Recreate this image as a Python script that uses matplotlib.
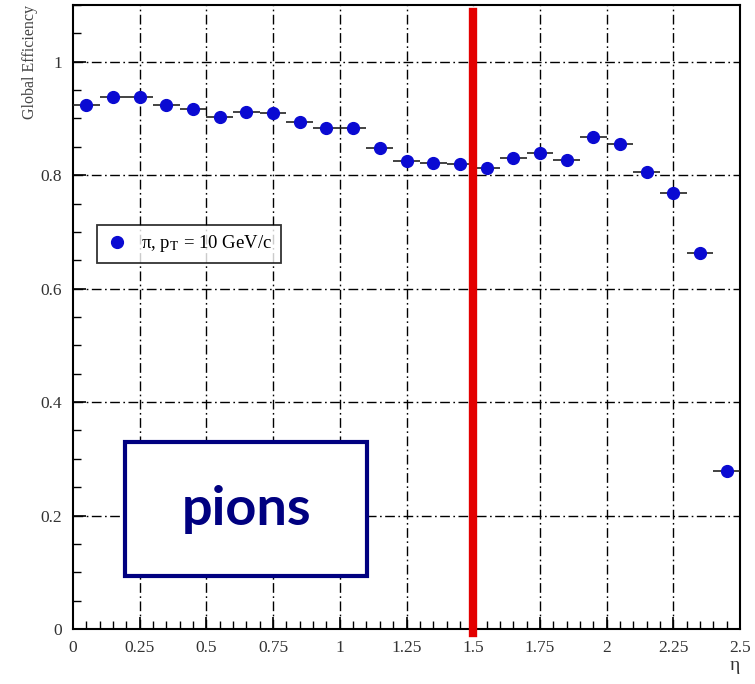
import numpy as np
import matplotlib.pyplot as plt
from matplotlib.patches import Rectangle
from matplotlib.lines import Line2D
from matplotlib.ticker import MultipleLocator, FixedLocator

# eta bin centres and measured global efficiency
eta = [0.05, 0.15, 0.25, 0.35, 0.45, 0.55, 0.65, 0.75, 0.85, 0.95,
       1.05, 1.15, 1.25, 1.35, 1.45, 1.55, 1.65, 1.75, 1.85, 1.95,
       2.05, 2.15, 2.25, 2.35, 2.45]
eff = [0.924, 0.938, 0.938, 0.923, 0.916, 0.902, 0.911, 0.909, 0.894, 0.883,
       0.883, 0.848, 0.825, 0.822, 0.819, 0.812, 0.831, 0.839, 0.826, 0.868,
       0.855, 0.806, 0.769, 0.663, 0.279]
bin_half = [0.05] * len(eta)

xticks = [0, 0.25, 0.5, 0.75, 1, 1.25, 1.5, 1.75, 2, 2.25, 2.5]
xtick_labels = ["0", "0.25", "0.5", "0.75", "1", "1.25", "1.5", "1.75", "2", "2.25", "2.5"]
yticks = [0, 0.2, 0.4, 0.6, 0.8, 1.0]
ytick_labels = ["0", "0.2", "0.4", "0.6", "0.8", "1"]

serif = "Liberation Serif"
plt.rcParams['mathtext.fontset'] = 'stix'

fig = plt.figure(figsize=(7.55, 6.84), dpi=100)
ax = fig.add_axes([73 / 755, 55 / 684, 667 / 755, 624 / 684])

ax.set_xlim(0, 2.5)
ax.set_ylim(0, 1.1)

# dash-dot grid at major ticks
grid_style = dict(color='black', lw=1.0, ls=(0, (7, 2.5, 1.2, 2.5)), zorder=1)
for xv in xticks[1:-1]:
    ax.axvline(xv, **grid_style)
for yv in yticks[1:]:
    ax.axhline(yv, **grid_style)

ax.errorbar(eta, eff, xerr=bin_half, fmt='o', color='#0a0ad2', ms=8.5,
            ecolor='#222222', elinewidth=1.2, capsize=0, zorder=4)

# red marker line at eta = 1.5
ax.axvline(1.5, ymin=-0.007, ymax=0.989, color='#e30000', lw=6, zorder=5, clip_on=False)

ax.xaxis.set_major_locator(FixedLocator(xticks))
ax.set_xticklabels(xtick_labels, fontfamily=serif, fontsize=12.5, color='#333333')
ax.xaxis.set_minor_locator(MultipleLocator(0.05))
ax.yaxis.set_major_locator(FixedLocator(yticks))
ax.set_yticklabels(ytick_labels, fontfamily=serif, fontsize=12.5, color='#333333')
ax.yaxis.set_minor_locator(MultipleLocator(0.05))
ax.tick_params(which='both', direction='in', top=False, right=False)
ax.tick_params(which='major', length=9, width=1.2, pad=8)
ax.tick_params(which='minor', length=6, width=1.0)
for s in ax.spines.values():
    s.set_linewidth(1.5)

ax.set_ylabel("Global Efficiency", loc='top', fontfamily=serif, fontsize=11.5,
              color='#444444', labelpad=1.5)
fig.text(735 / 755, 1 - 666 / 684, "η", fontfamily=serif, fontsize=14,
         color='#333333', ha='center', va='center')

handle = Line2D([], [], ls='none', marker='o', color='#0a0ad2', ms=8.5)
leg = ax.legend([handle], ["π, p$_{\\mathrm{T}}$ = 10 GeV/c"], loc='upper left',
                bbox_to_anchor=(24 / 667, (629 - 225) / 624),
                prop={'family': serif, 'size': 13.5}, frameon=True, fancybox=False,
                edgecolor='black', borderpad=0.45, handletextpad=0.7, handlelength=1.2,
                borderaxespad=0)
leg.get_frame().set_linewidth(1.3)

# "pions" annotation box
box = Rectangle(((125 - 73) / 667 * 2.5, (629 - 576) / 567), (367 - 125) / 667 * 2.5,
                134 / 567, facecolor='white', edgecolor='#000080', lw=3, zorder=6)
ax.add_patch(box)
ax.text((247 - 73) / 667 * 2.5, (629 - 510) / 567, "pions", fontfamily="Lato",
        fontweight='bold', fontsize=39, color='#000080', ha='center', va='center', zorder=7)

fig.savefig("out.png", dpi=100)
